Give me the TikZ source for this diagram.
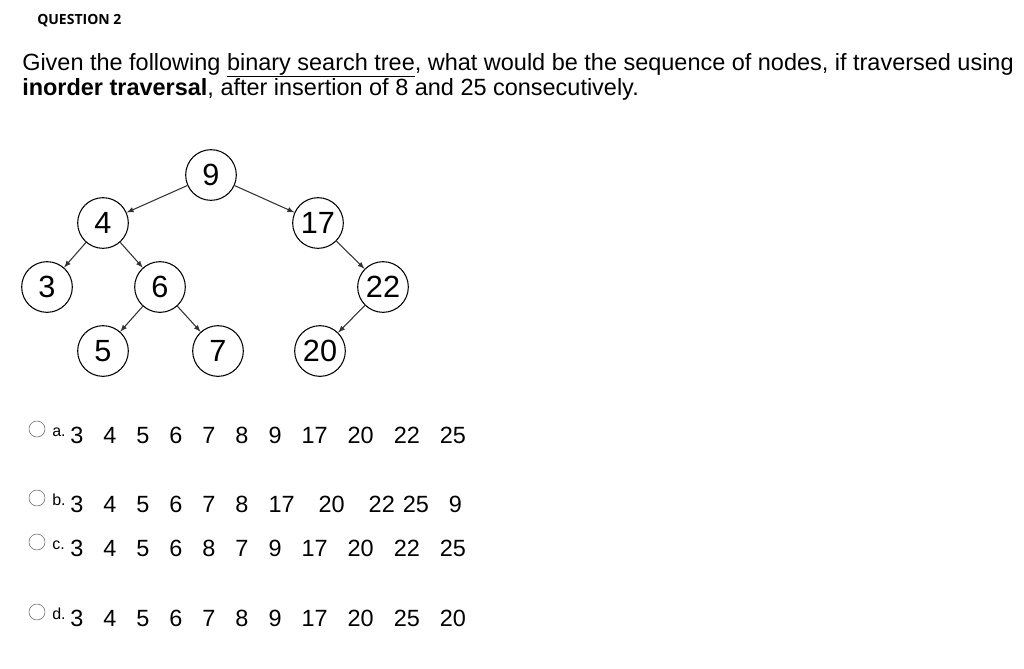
\documentclass[tikz,border=0pt]{standalone}
\usepackage{fontspec}
\setmainfont{Liberation Sans}
\newfontfamily\headfont{Open Sans}
\usetikzlibrary{positioning}
\newcommand{\gap}{\hspace{15pt}}
\tikzset{
  treenode/.style={draw, circle, thick, minimum size=38pt, inner sep=0pt, font=\fontsize{23}{23}\selectfont},
  edge/.style={draw=black!80, thick, -latex},
  txt/.style={anchor=base west, inner sep=0pt, font=\fontsize{17.6}{17.6}\selectfont},
  radio/.style={draw=black!60, circle, minimum size=12pt, inner sep=0pt},
  letter/.style={anchor=base west, inner sep=0pt, font=\fontsize{12}{12}\selectfont}
}
\begin{document}
\begin{tikzpicture}[x=0.75pt,y=-0.75pt]
  \useasboundingbox (0,0) rectangle (1024,668);
  % heading and question
  \node [anchor=base west, inner sep=0pt, font=\headfont\bfseries\fontsize{10.5}{10.5}\selectfont] (head) at (37,24) {QUESTION 2};
  \node [txt] (q1) at (22,70) {Given the following \underline{binary search tree}, what would be the sequence of nodes, if traversed using};
  \node [txt] (q2) at (22,95) {\textbf{inorder traversal}, after insertion of 8 and 25 consecutively.};

  % tree
  \node [treenode] (n9) at (211,175) {9};
  \node [treenode] (n4) at (103,223) {4};
  \node [treenode] (n17) at (318,223) {17};
  \node [treenode] (n3) at (47,287) {3};
  \node [treenode] (n6) at (160,287) {6};
  \node [treenode] (n22) at (383,287) {22};
  \node [treenode] (n5) at (103,351) {5};
  \node [treenode] (n7) at (218,351) {7};
  \node [treenode] (n20) at (320,351) {20};

  \draw [edge] (n9) -- (n4);
  \draw [edge] (n9) -- (n17);
  \draw [edge] (n4) -- (n3);
  \draw [edge] (n4) -- (n6);
  \draw [edge] (n6) -- (n5);
  \draw [edge] (n6) -- (n7);
  \draw [edge] (n17) -- (n22);
  \draw [edge] (n22) -- (n20);

  % answers
  \node [radio] (ra) at (37,429) {};
  \node [letter] (la) at (52,436) {a.};
  \node [txt] (aa) at (70,443) {3\gap4\gap5\gap6\gap7\gap8\gap9\gap17\gap20\gap22\gap25};

  \node [radio] (rb) at (37,498) {};
  \node [letter] (lb) at (52,505) {b.};
  \node [txt] (ab) at (70,512) {3\gap4\gap5\gap6\gap7\gap8\gap17\gap\hspace{3pt}20\gap\hspace{3pt}22\hspace{6pt}25\gap9};

  \node [radio] (rc) at (37,542) {};
  \node [letter] (lc) at (52,549) {c.};
  \node [txt] (ac) at (70,556) {3\gap4\gap5\gap6\gap8\gap7\gap9\gap17\gap20\gap22\gap25};

  \node [radio] (rd) at (37,612) {};
  \node [letter] (ld) at (52,619) {d.};
  \node [txt] (ad) at (70,626) {3\gap4\gap5\gap6\gap7\gap8\gap9\gap17\gap20\gap25\gap20};
\end{tikzpicture}
\end{document}
